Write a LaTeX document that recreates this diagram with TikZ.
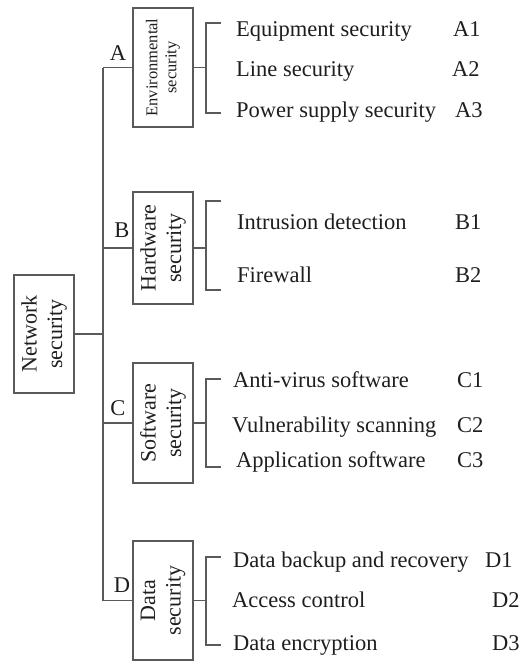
\documentclass[tikz,border=0pt]{standalone}
\usepackage{fontspec}
\setmainfont{Liberation Serif}
\definecolor{ln}{HTML}{5A5A5A}
\definecolor{tx}{HTML}{1E1E1E}
\begin{document}
\begin{tikzpicture}[x=1pt,y=-1pt,
  conn/.style={draw=ln,line width=1.4pt},
  secbox/.style={draw=ln,line width=1.4pt,rotate=90,align=center,inner sep=1pt,text=tx,
     font=\fontsize{22}{25.5}\selectfont,minimum height=60pt},
  item/.style={anchor=base west,inner sep=0pt,text=tx,font=\fontsize{22.5}{26}\selectfont},
  lab/.style={anchor=base,inner sep=0pt,text=tx,font=\fontsize{22.5}{26}\selectfont}]
\useasboundingbox (0,0) rectangle (521,662);
% main boxes
\node[secbox,minimum width=118pt] (net) at (44,334) {Network\\security};
\node[secbox,minimum width=119pt,font=\fontsize{16.5}{19}\selectfont] (ba) at (163,67.5) {Environmental\\security};
\node[secbox,minimum width=112pt] (bb) at (163,248) {Hardware\\security};
\node[secbox,minimum width=120pt] (bc) at (163,423) {Software\\security};
\node[secbox,minimum width=119pt] (bd) at (163,600.5) {Data\\security};
% trunk
\coordinate (tn) at (103,334);
\coordinate (ta) at (103,67.5);
\coordinate (tb) at (103,248);
\coordinate (tc) at (103,423);
\coordinate (td) at (103,600.5);
\draw[conn] (net.south) -- (tn);
\draw[conn] (ta) -- (td);
\draw[conn] (ta) -- (ba.north);
\draw[conn] (tb) -- (bb.north);
\draw[conn] (tc) -- (bc.north);
\draw[conn] (td) -- (bd.north);
\node[lab] (la) at (118,60) {A};
\node[lab] (lb) at (122,237) {B};
\node[lab] (lc) at (118,415) {C};
\node[lab] (ld) at (122,592) {D};
% brackets
\coordinate (ma) at (206,67.5);
\coordinate (mb) at (206,248);
\coordinate (mc) at (206,423);
\coordinate (md) at (206,600.5);
\draw[conn] (ba.south) -- (ma);
\draw[conn] (bb.south) -- (mb);
\draw[conn] (bc.south) -- (mc);
\draw[conn] (bd.south) -- (md);
\coordinate (a1) at (221,23); \coordinate (a2) at (221,113);
\coordinate (b1) at (221,201); \coordinate (b2) at (221,290);
\coordinate (c1) at (221,379); \coordinate (c2) at (221,467);
\coordinate (d1) at (221,557); \coordinate (d2) at (221,645);
\draw[conn] (a1) -- (a1 -| ma) -- (a2 -| ma) -- (a2);
\draw[conn] (b1) -- (b1 -| mb) -- (b2 -| mb) -- (b2);
\draw[conn] (c1) -- (c1 -| mc) -- (c2 -| mc) -- (c2);
\draw[conn] (d1) -- (d1 -| md) -- (d2 -| md) -- (d2);
% items
\node[item] (ia1) at (236,36) {Equipment security};
\node[item] (ia2) at (236,76) {Line security};
\node[item] (ia3) at (236,117) {Power supply security};
\node[item] (ca1) at (453,36) {A1};
\node[item] (ca2) at (452,76) {A2};
\node[item] (ca3) at (455,117) {A3};
\node[item] (ib1) at (237,229) {Intrusion detection};
\node[item] (ib2) at (237,282) {Firewall};
\node[item] (cb1) at (455,229) {B1};
\node[item] (cb2) at (455,282) {B2};
\node[item] (ic1) at (233,387) {Anti-virus software};
\node[item] (ic2) at (232,432) {Vulnerability scanning};
\node[item] (ic3) at (236,467) {Application software};
\node[item] (cc1) at (457,387) {C1};
\node[item] (cc2) at (457,432) {C2};
\node[item] (cc3) at (457,467) {C3};
\node[item] (id1) at (233,567) {Data backup and recovery};
\node[item] (id2) at (232,607) {Access control};
\node[item] (id3) at (233,650) {Data encryption};
\node[item] (cd1) at (485,567) {D1};
\node[item] (cd2) at (492,607) {D2};
\node[item] (cd3) at (492,650) {D3};
\end{tikzpicture}
\end{document}
